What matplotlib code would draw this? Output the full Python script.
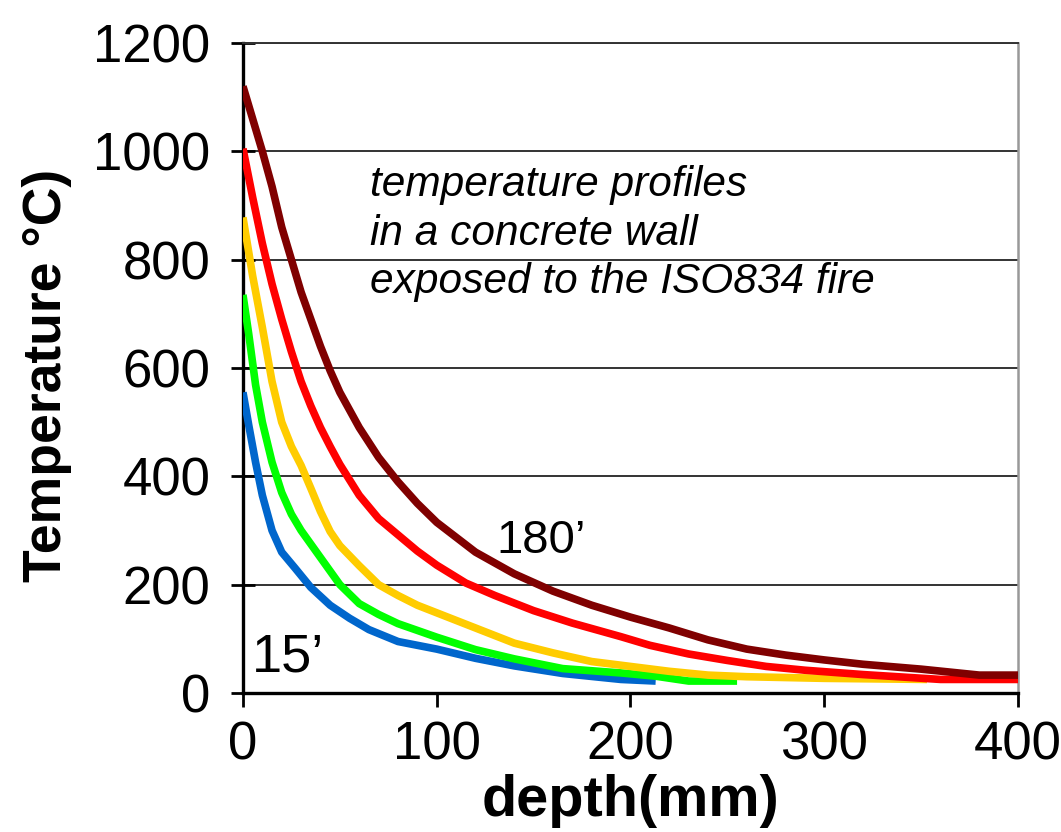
import matplotlib.pyplot as plt

# depth (mm) / temperature (C), one pair per curve
depth_180 = [0, 5, 10, 15, 20, 25, 30, 35, 40, 45, 50, 60, 70, 80, 90, 100, 120, 140, 160,
             180, 200, 220, 240, 260, 280, 300, 320, 350, 380, 400]
temp_180 = [1120, 1060, 1000, 935, 860, 800, 740, 690, 640, 595, 555, 490, 435, 390, 350, 315,
            260, 220, 188, 162, 140, 120, 98, 81, 70, 61, 53, 44, 33, 33]

depth_120 = [0, 5, 10, 15, 20, 25, 30, 35, 40, 45, 50, 60, 70, 80, 90, 100, 115, 130, 150,
             170, 195, 210, 230, 250, 270, 290, 320, 360, 400]
temp_120 = [1005, 915, 830, 755, 690, 630, 575, 530, 490, 455, 422, 365, 322, 292, 262, 236,
            203, 180, 152, 129, 104, 88, 72, 60, 49, 42, 34, 25, 25]

depth_60 = [0, 5, 10, 15, 20, 25, 30, 35, 40, 45, 50, 60, 70, 80, 90, 100, 120, 140, 160,
            180, 200, 220, 240, 260, 300, 353]
temp_60 = [878, 770, 675, 575, 500, 455, 420, 378, 335, 298, 272, 235, 200, 180, 162, 148,
           120, 92, 74, 58, 49, 40, 33, 30, 27, 25]

depth_30 = [0, 3, 6.5, 10, 15, 20, 25, 30, 40, 50, 60, 70, 80, 100, 120, 140, 165, 195,
            213, 230, 255]
temp_30 = [735, 662, 569, 500, 426, 370, 330, 300, 250, 200, 165, 145, 128, 103, 80, 63, 45, 37,
           31, 22, 22]

depth_15 = [0, 3, 6.5, 10, 15, 20, 27, 35, 45, 55, 65, 80, 100, 120, 140, 165, 195, 213]
temp_15 = [555, 494, 426, 365, 300, 260, 230, 195, 162, 138, 117, 95, 81, 64, 50, 36, 25, 22]

x_ticks = [0, 100, 200, 300, 400]
y_ticks = [0, 200, 400, 600, 800, 1000, 1200]

fig = plt.figure(figsize=(10.61, 8.32), dpi=100)
ax = fig.add_axes([0.229, 0.1671, 0.7305, 0.7812])

series = [
    (depth_15, temp_15, '#0066cc'),
    (depth_30, temp_30, '#00ff00'),
    (depth_60, temp_60, '#ffcc00'),
    (depth_120, temp_120, '#ff0000'),
    (depth_180, temp_180, '#800000'),
]
for xs, ys, col in series:
    ax.plot(xs, ys, color=col, linewidth=5.5, solid_capstyle='butt',
            solid_joinstyle='round', zorder=3)

ax.set_xlim(0, 400)
ax.set_ylim(0, 1200)
ax.set_xticks(x_ticks)
ax.set_yticks(y_ticks)
ax.yaxis.grid(True, color='#333333', linewidth=1.4)
ax.set_axisbelow(True)

for s in ['left', 'bottom']:
    ax.spines[s].set_linewidth(2.4)
    ax.spines[s].set_color('black')
ax.spines['right'].set_color('#999999')
ax.spines['right'].set_linewidth(1.8)
ax.spines['top'].set_color('#333333')
ax.spines['top'].set_linewidth(1.4)

ax.tick_params(axis='y', direction='inout', length=17, width=2, pad=15)
ax.tick_params(axis='x', direction='out', length=10, width=2, pad=10)
for lab in ax.get_yticklabels() + ax.get_xticklabels():
    lab.set_fontfamily('Liberation Sans')
    lab.set_fontsize(38)

ax.set_xlabel('depth(mm)', fontfamily='Liberation Sans', fontsize=41.5,
              fontweight='bold', labelpad=2)
ax.set_ylabel('Temperature °C)', fontfamily='Liberation Sans', fontsize=38.5,
              fontweight='bold')
ax.yaxis.set_label_coords(-0.221, 0.489)

ax.text(65.5, 848, 'temperature profiles\nin a concrete wall\nexposed to the ISO834 fire',
        fontfamily='Liberation Sans', fontstyle='italic', fontsize=30.5,
        va='center', ha='left', linespacing=1.28)
ax.text(131, 258, '180\u2019', fontfamily='Liberation Sans', fontsize=34)
ax.text(4.5, 39, '15\u2019', fontfamily='Liberation Sans', fontsize=39)

fig.savefig('out.png', dpi=100)
